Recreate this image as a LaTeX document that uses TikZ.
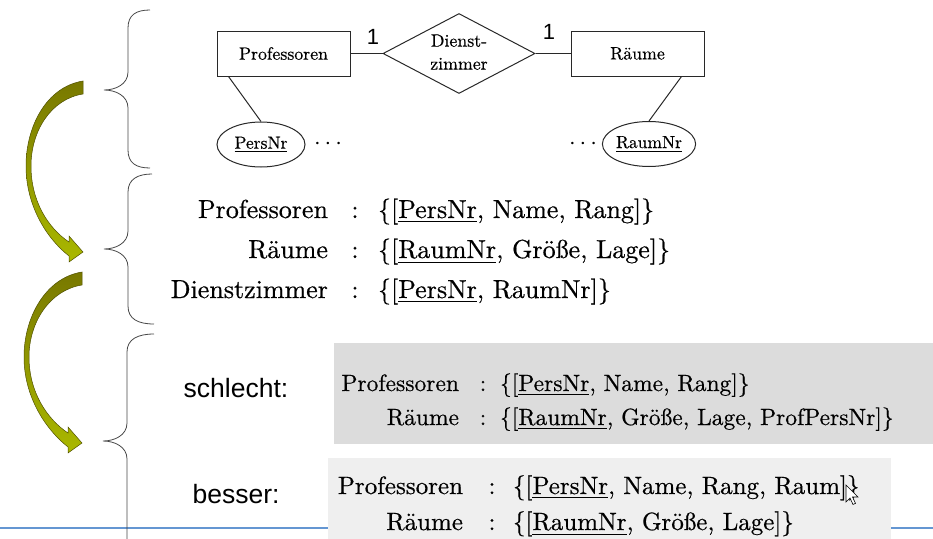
\documentclass[tikz,border=0pt]{standalone}
\usepackage{fontspec}
\usepackage{graphicx}
\usetikzlibrary{shapes.geometric}
\newfontfamily\arialfont{Liberation Sans}
\newfontfamily\lmscan{lmroman10-regular.otf}[FakeBold=0.5]
\newcommand{\sctx}[2]{\scalebox{#1}{\fontsize{10}{12.9}\lmscan\selectfont #2}}
\definecolor{olivetop}{RGB}{120,120,0}
\definecolor{olivebot}{RGB}{170,184,0}
\definecolor{oliveline}{RGB}{80,80,0}
\definecolor{boxone}{RGB}{220,220,220}
\definecolor{boxtwo}{RGB}{239,239,239}
\definecolor{bluerule}{RGB}{100,150,210}
\definecolor{erline}{RGB}{40,40,40}
\definecolor{braceline}{RGB}{70,70,70}
\begin{document}
\begin{tikzpicture}[x=1pt,y=-1pt,
  txt/.style={inner sep=0pt, outer sep=0pt},
  erbox/.style={draw=erline, line width=1pt, inner sep=0pt, minimum width=133pt, minimum height=45pt},
  erdia/.style={draw=erline, line width=1pt, diamond, aspect=1.9, inner sep=0pt, minimum width=152pt, minimum height=80pt},
  erell/.style={draw=erline, line width=1pt, ellipse, inner sep=0pt, minimum width=88pt, minimum height=45pt},
  erconn/.style={draw=erline, line width=1pt},
  bracestyle/.style={draw=braceline, line width=0.8pt},
  greenarrow/.style={draw=oliveline, line width=0.5pt, top color=olivetop, bottom color=olivebot},
  card/.style={txt, font=\arialfont\fontsize{22}{24}\selectfont},
  lbl/.style={txt, font=\arialfont\fontsize{26.5}{30}\selectfont},
  rel/.style={txt}
]
\useasboundingbox (0,0) rectangle (933,538);
\clip (0,0) rectangle (933,538);

% blue rule at the bottom
\draw[bluerule, line width=1.2pt] (0,528) -- (933,528);

% grey boxes
\fill[boxone] (334,343) rectangle (933,444);
\fill[boxtwo] (328,458) rectangle (891,540);

% braces
\draw[bracestyle] (150,10) .. controls (136,10) and (128,15) .. (128,28) -- (128,72)
  .. controls (128,84) and (116,90) .. (104,90) .. controls (116,90) and (128,96) .. (128,108)
  -- (128,150) .. controls (128,163) and (136,168) .. (150,168);
\draw[bracestyle] (152,174) .. controls (138,174) and (128,179) .. (128,192) -- (128,231)
  .. controls (128,243) and (116,249) .. (104,249) .. controls (116,249) and (128,255) .. (128,267)
  -- (128,306) .. controls (128,319) and (138,324) .. (154,324);
\draw[bracestyle] (154,334) .. controls (138,334) and (127,339) .. (127,352) -- (127,423)
  .. controls (127,435) and (115,441) .. (103,441) .. controls (115,441) and (127,447) .. (127,459)
  -- (127,545);

% green curved arrows
\begin{scope}[shift={(1,-191)}]
\path[greenarrow] (82,272) .. controls (45,278) and (25,318) .. (25,357)
  .. controls (25,395) and (44,428) .. (68,447) -- (68,453) -- (82,443) -- (68,427) -- (68,433)
  .. controls (47,419) and (30,392) .. (30,357) .. controls (30,322) and (50,290) .. (82,285) -- cycle;
\end{scope}
\path[greenarrow] (82,272) .. controls (45,278) and (24,318) .. (24,357)
  .. controls (24,395) and (44,428) .. (68,447) -- (68,453) -- (82,443) -- (68,427) -- (68,433)
  .. controls (47,419) and (29,392) .. (29,357) .. controls (29,322) and (50,290) .. (82,285) -- cycle;

% ER diagram
\node[erbox] (prof) at (283.5,53.5) {\sctx{1.78}{Professoren}};
\node[erdia] (dz) at (459,53.5) {\sctx{1.78}{\begin{tabular}{@{}c@{}}Dienst-\\zimmer\end{tabular}}};
\node[erbox] (raeume) at (637.5,53.5) {\sctx{1.78}{Räume}};
\node[erell] (pn) at (261,144.5) {\sctx{1.75}{\underline{PersNr}}};
\node[erell] (rn) at (649,144) {\sctx{1.75}{\underline{RaumNr}}};
\node[txt, anchor=base] (dotsl) at (328,149) {\scalebox{2.4}{$\cdots$}};
\node[txt, anchor=base] (dotsr) at (583,149) {\scalebox{2.4}{$\cdots$}};
\draw[erconn] (prof.east) -- (dz.west);
\draw[erconn] (dz.east) -- (raeume.west);
\draw[erconn] ([xshift=12pt]prof.south west) -- (pn.north);
\draw[erconn] ([xshift=-23pt]raeume.south east) -- (rn.north);
\node[card] (cardl) at (373,37) {1};
\node[card] (cardr) at (549,32) {1};

% relational schema
\node[rel, anchor=base east] (mpn) at (328,218) {\sctx{2.6}{Professoren}};
\node[rel, anchor=base] (mpc) at (355,218) {\sctx{2.6}{:}};
\node[rel, anchor=base west] (mps) at (378,218) {\sctx{2.6}{\{[\underline{PersNr}, Name, Rang]\}}};
\node[rel, anchor=base east] (mrn) at (328,258) {\sctx{2.6}{Räume}};
\node[rel, anchor=base] (mrc) at (355,258) {\sctx{2.6}{:}};
\node[rel, anchor=base west] (mrs) at (378,258) {\sctx{2.6}{\{[\underline{RaumNr}, Größe, Lage]\}}};
\node[rel, anchor=base east] (mdn) at (328,298) {\sctx{2.6}{Dienstzimmer}};
\node[rel, anchor=base] (mdc) at (355,298) {\sctx{2.6}{:}};
\node[rel, anchor=base west] (mds) at (378,298) {\sctx{2.6}{\{[\underline{PersNr}, RaumNr]\}}};

% schlecht
\node[lbl] (schlecht) at (236,388) {schlecht:};
\node[rel, anchor=base east] (spn) at (459,391) {\sctx{2.35}{Professoren}};
\node[rel, anchor=base] (spc) at (483,391) {\sctx{2.35}{:}};
\node[rel, anchor=base west] (sps) at (500,391) {\sctx{2.35}{\{[\underline{PersNr}, Name, Rang]\}}};
\node[rel, anchor=base east] (srn) at (459,425) {\sctx{2.35}{Räume}};
\node[rel, anchor=base] (src) at (483,425) {\sctx{2.35}{:}};
\node[rel, anchor=base west] (srs) at (500,425) {\sctx{2.35}{\{[\underline{RaumNr}, Größe, Lage, ProfPersNr]\}}};

% besser
\node[lbl] (besser) at (236,494) {besser:};
\node[rel, anchor=base east] (bpn) at (463,494) {\sctx{2.5}{Professoren}};
\node[rel, anchor=base] (bpc) at (492,494) {\sctx{2.5}{:}};
\node[rel, anchor=base west] (bps) at (513,494) {\sctx{2.5}{\{[\underline{PersNr}, Name, Rang, Raum]\}}};
\node[rel, anchor=base east] (brn) at (463,530) {\sctx{2.5}{Räume}};
\node[rel, anchor=base] (brc) at (492,530) {\sctx{2.5}{:}};
\node[rel, anchor=base west] (brs) at (513,530) {\sctx{2.5}{\{[\underline{RaumNr}, Größe, Lage]\}}};

% mouse pointer
\draw[fill=white, draw=black, line width=0.6pt] (846,485) -- ++(0,17) -- ++(4,-4) -- ++(3,6.5)
  -- ++(2.5,-1.2) -- ++(-3,-6.3) -- ++(5.5,0) -- cycle;
\end{tikzpicture}
\end{document}
